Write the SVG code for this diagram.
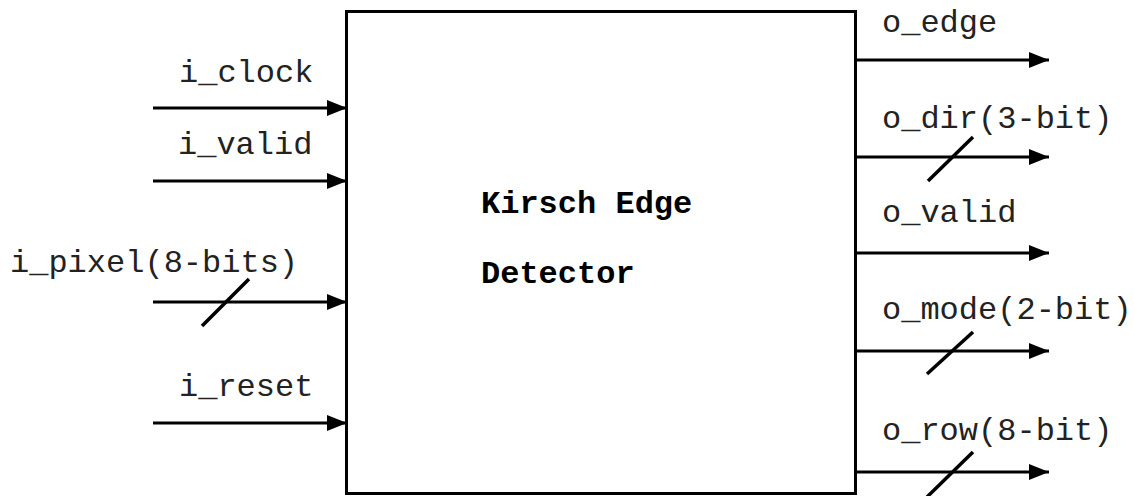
<svg xmlns="http://www.w3.org/2000/svg" width="1134" height="496" viewBox="0 0 1134 496">
<style>
.lbl{font-family:"Liberation Mono","Courier New",monospace;font-size:32px;fill:#222}
.ttl{font-family:"Liberation Mono","Courier New",monospace;font-size:32px;font-weight:bold;fill:#000}
.wire{stroke:#000;stroke-width:3;fill:none}
.bus{stroke:#000;stroke-width:3.5;fill:none}
</style>
<defs>
<marker id="ah" markerUnits="userSpaceOnUse" markerWidth="22" markerHeight="16" refX="20" refY="8" orient="auto">
<path d="M0,0 L20,8 L0,16 Z" fill="#000"/>
</marker>
</defs>
<rect width="1134" height="496" fill="#fff"/>
<g id="detector">
<rect x="346.5" y="11.5" width="509" height="482" fill="#fff" stroke="#000" stroke-width="3"/>
<text class="ttl" x="481" y="213">Kirsch Edge</text>
<text class="ttl" x="481" y="283">Detector</text>
</g>
<g id="labels">
<text class="lbl" x="179" y="82">i_clock</text>
<text class="lbl" x="178" y="154">i_valid</text>
<text class="lbl" x="10" y="272">i_pixel(8-bits)</text>
<text class="lbl" x="179" y="396">i_reset</text>
<text class="lbl" x="882" y="32">o_edge</text>
<text class="lbl" x="882" y="128">o_dir(3-bit)</text>
<text class="lbl" x="882" y="222">o_valid</text>
<text class="lbl" x="882" y="319">o_mode(2-bit)</text>
<text class="lbl" x="882" y="440">o_row(8-bit)</text>
</g>
<g id="connectors">
<line class="wire" x1="153" y1="108" x2="347" y2="108" marker-end="url(#ah)"/>
<line class="wire" x1="153" y1="181" x2="347" y2="181" marker-end="url(#ah)"/>
<line class="wire" x1="153" y1="302" x2="347" y2="302" marker-end="url(#ah)"/>
<line class="wire" x1="153" y1="423" x2="347" y2="423" marker-end="url(#ah)"/>
<line class="bus" x1="202" y1="326" x2="249" y2="279"/>
<line class="wire" x1="856" y1="60" x2="1049" y2="60" marker-end="url(#ah)"/>
<line class="wire" x1="856" y1="157" x2="1049" y2="157" marker-end="url(#ah)"/>
<line class="wire" x1="856" y1="253" x2="1049" y2="253" marker-end="url(#ah)"/>
<line class="wire" x1="856" y1="351" x2="1049" y2="351" marker-end="url(#ah)"/>
<line class="wire" x1="856" y1="472" x2="1049" y2="472" marker-end="url(#ah)"/>
<line class="bus" x1="928" y1="181" x2="973" y2="137"/>
<line class="bus" x1="927" y1="374" x2="973" y2="332"/>
<line class="bus" x1="927" y1="497" x2="973" y2="452"/>
</g>
</svg>
